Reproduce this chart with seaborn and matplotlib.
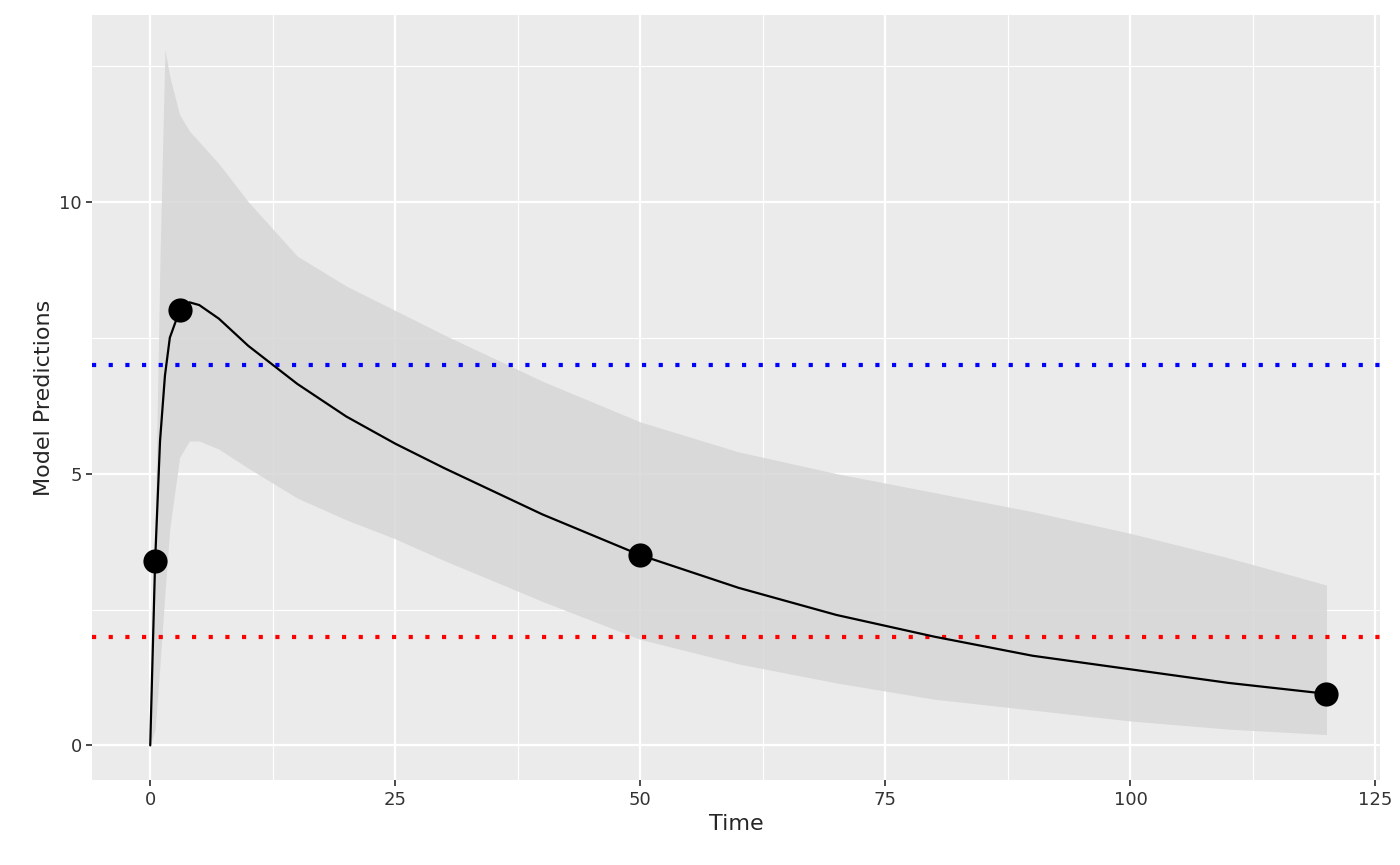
import numpy as np
import pandas as pd
import matplotlib
matplotlib.use("Agg")
import matplotlib.pyplot as plt
import seaborn as sns

# values
time = [0, 0.5, 1, 1.5, 2, 3, 4, 5, 7, 10, 15, 20, 25, 30, 40, 50, 60, 70, 80, 90, 100, 110, 120]
pred = [0, 3.4, 5.6, 6.8, 7.5, 8.0, 8.15, 8.1, 7.85, 7.35, 6.65, 6.05, 5.55, 5.1, 4.25, 3.5,
        2.9, 2.4, 2.0, 1.65, 1.4, 1.15, 0.95]
upper = [0, 4, 9, 12.8, 12.3, 11.6, 11.3, 11.1, 10.7, 10.0, 9.0, 8.45, 8.0, 7.55, 6.7, 5.95,
         5.4, 5.0, 4.65, 4.3, 3.9, 3.45, 2.95]
lower = [0, 0.3, 1.5, 2.8, 4.0, 5.3, 5.6, 5.6, 5.45, 5.1, 4.55, 4.15, 3.8, 3.4, 2.65, 1.95,
         1.5, 1.15, 0.85, 0.65, 0.45, 0.3, 0.2]
obs_time = [0.5, 3, 50, 120]
obs_value = [3.4, 8.0, 3.5, 0.95]
upper_limit = 7
lower_limit = 2

df = pd.DataFrame({"Time": time, "pred": pred, "upper": upper, "lower": lower})
obs = pd.DataFrame({"Time": obs_time, "value": obs_value})

sns.set_theme(style="darkgrid", rc={
    "axes.facecolor": "#EBEBEB",
    "grid.color": "white",
    "axes.edgecolor": "#EBEBEB",
    "xtick.bottom": True, "ytick.left": True,
    "xtick.color": "#333333", "ytick.color": "#333333",
})
plt.rcParams["font.family"] = ["DejaVu Sans"]

fig, ax = plt.subplots(figsize=(14, 8.65), dpi=100)
ax.fill_between(df["Time"], df["lower"], df["upper"], color="#D6D6D6", alpha=0.85, lw=0, zorder=1)
sns.lineplot(data=df, x="Time", y="pred", color="black", lw=1.6, ax=ax, zorder=3)
ax.axhline(upper_limit, color="blue", ls=(0, (1, 3)), lw=3, zorder=2)
ax.axhline(lower_limit, color="red", ls=(0, (1, 3)), lw=3, zorder=2)
sns.scatterplot(data=obs, x="Time", y="value", color="black", s=260, ax=ax, zorder=4, edgecolor="black")

ax.set_xlim(-5.9, 125.5)
ax.set_ylim(-0.64, 13.44)
ax.set_xticks([0, 25, 50, 75, 100, 125])
ax.set_yticks([0, 5, 10])
ax.set_xticks([12.5, 37.5, 62.5, 87.5, 112.5], minor=True)
ax.set_yticks([2.5, 7.5, 12.5], minor=True)
ax.grid(which="major", color="white", lw=1.6)
ax.grid(which="minor", color="white", lw=0.8)
ax.tick_params(which="minor", length=0)
ax.tick_params(which="major", labelsize=13, length=4, color="#333333")
ax.set_xlabel("Time", fontsize=16)
ax.set_ylabel("Model Predictions", fontsize=16)
for s in ax.spines.values():
    s.set_visible(False)

fig.subplots_adjust(left=0.066, right=0.986, top=0.983, bottom=0.098)
fig.savefig("out.png")
